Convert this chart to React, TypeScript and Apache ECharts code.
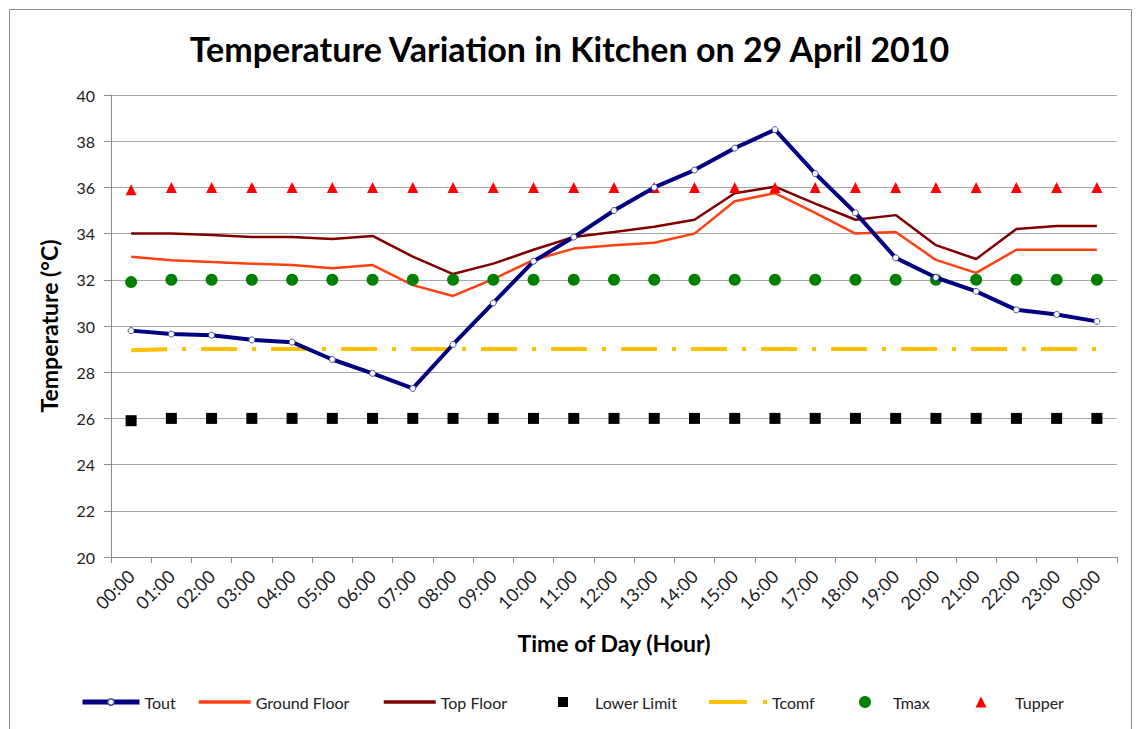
import React, { useEffect, useRef } from "react";
import * as echarts from "echarts";

const hours = [
  "00:00", "01:00", "02:00", "03:00", "04:00", "05:00", "06:00", "07:00", "08:00",
  "09:00", "10:00", "11:00", "12:00", "13:00", "14:00", "15:00", "16:00", "17:00",
  "18:00", "19:00", "20:00", "21:00", "22:00", "23:00", "00:00",
];
const yTicks = [20, 40, 2]; // min, max, interval

const tout = [29.8, 29.65, 29.6, 29.4, 29.3, 28.55, 27.95, 27.3, 29.2, 31.0, 32.8, 33.85, 35.0, 36.0, 36.75, 37.7, 38.5, 36.6, 34.9, 32.95, 32.1, 31.5, 30.7, 30.5, 30.2];
const groundFloor = [33.0, 32.85, 32.77, 32.7, 32.64, 32.5, 32.64, 31.77, 31.3, 32.03, 32.86, 33.35, 33.5, 33.6, 34.0, 35.4, 35.75, 34.9, 34.0, 34.07, 32.86, 32.3, 33.3, 33.3, 33.3];
const topFloor = [34.0, 34.0, 33.94, 33.85, 33.85, 33.77, 33.9, 33.0, 32.25, 32.7, 33.3, 33.85, 34.07, 34.3, 34.6, 35.75, 36.03, 35.3, 34.6, 34.8, 33.5, 32.9, 34.2, 34.33, 34.33];
const lowerLimit = [25.9, 26, 26, 26, 26, 26, 26, 26, 26, 26, 26, 26, 26, 26, 26, 26, 26, 26, 26, 26, 26, 26, 26, 26, 26];
const tcomf = [28.95, 29, 29, 29, 29, 29, 29, 29, 29, 29, 29, 29, 29, 29, 29, 29, 29, 29, 29, 29, 29, 29, 29, 29, 29];
const tmax = [31.9, 32, 32, 32, 32, 32, 32, 32, 32, 32, 32, 32, 32, 32, 32, 32, 32, 32, 32, 32, 32, 32, 32, 32, 32];
const tupper = [35.9, 36, 36, 36, 36, 36, 36, 36, 36, 36, 36, 36, 36, 36, 36, 36, 36, 36, 36, 36, 36, 36, 36, 36, 36];

const seriesNames = ["Tout", "Ground Floor", "Top Floor", "Lower Limit", "Tcomf", "Tmax", "Tupper"];

const FONT = "Lato, 'Open Sans', sans-serif";

export default function App() {
  const ref = useRef<HTMLDivElement>(null);
  useEffect(() => {
    if (!ref.current) return;
    const chart = echarts.init(ref.current, undefined, { renderer: "svg" });
    // legend entries: icon left, icon size, text left
    const legendDefs: any[] = [
      { name: seriesNames[0], left: 80, w: 57, h: 8, text: 142, extra: { itemStyle: { borderWidth: 1.5, borderColor: "#4a4aa8", color: "#fff" }, lineStyle: { width: 5, color: "#000080" } } },
      { name: seriesNames[1], left: 197, w: 52, h: 14, text: 254, extra: { itemStyle: { opacity: 0 }, lineStyle: { width: 3.5, color: "#ff4010" } } },
      { name: seriesNames[2], left: 382, w: 52, h: 14, text: 439, extra: { itemStyle: { opacity: 0 }, lineStyle: { width: 3.5, color: "#800000" } } },
      { name: seriesNames[3], left: 558, w: 10, h: 10, text: 595, extra: { icon: "rect" } },
      { name: seriesNames[4], left: 707, w: 58, h: 14, text: 768, extra: { itemStyle: { opacity: 0 }, lineStyle: { width: 4, color: "#ffc000", type: [38, 16, 4, 20], cap: "butt" } } },
      { name: seriesNames[5], left: 859, w: 12, h: 12, text: 893, extra: { icon: "circle" } },
      { name: seriesNames[6], left: 975.5, w: 11, h: 11, text: 1015, extra: { icon: "triangle" } },
    ];
    chart.setOption({
      animation: false,
      backgroundColor: "#ffffff",
      textStyle: { fontFamily: FONT },
      title: {
        text: "Temperature Variation in Kitchen on 29 April 2010",
        left: "center",
        top: 26,
        textStyle: { fontFamily: FONT, fontSize: 34, fontWeight: "bold", color: "#000" },
      },
      graphic: [
        {
          type: "rect",
          shape: { x: 9.5, y: 9.5, width: 1122, height: 740 },
          style: { fill: "none", stroke: "#8c8c8c", lineWidth: 1 },
          silent: true,
        },
      ],
      legend: legendDefs.map((d) => ({
        data: [d.name],
        left: d.left,
        top: 694,
        padding: 0,
        itemWidth: d.w,
        itemHeight: d.h,
        selectedMode: false,
        textStyle: {
          fontFamily: FONT,
          fontSize: 16,
          color: "#222",
          padding: [0, 0, 0, Math.max(0, d.text - (d.left + d.w + 5))],
        },
        ...d.extra,
      })),
      grid: { left: 111, right: 22, top: 95, bottom: 172, containLabel: false },
      xAxis: {
        type: "category",
        data: hours,
        boundaryGap: true,
        name: "Time of Day (Hour)",
        nameLocation: "middle",
        nameGap: 74,
        nameTextStyle: { fontFamily: FONT, fontSize: 23, fontWeight: "bold", color: "#000" },
        axisLine: { lineStyle: { color: "#8c8c8c", width: 1 } },
        axisTick: { show: true, length: 6, lineStyle: { color: "#8c8c8c" } },
        axisLabel: {
          interval: 0,
          rotate: 45,
          margin: 16,
          fontFamily: FONT,
          fontSize: 18,
          color: "#222",
        },
        splitLine: { show: false },
      },
      yAxis: {
        type: "value",
        min: yTicks[0],
        max: yTicks[1],
        interval: yTicks[2],
        name: "Temperature (°C)",
        nameLocation: "middle",
        nameGap: 51,
        nameTextStyle: { fontFamily: FONT, fontSize: 23, fontWeight: "bold", color: "#000" },
        axisLine: { show: true, lineStyle: { color: "#8c8c8c", width: 1 } },
        axisTick: { show: true, length: 7, lineStyle: { color: "#8c8c8c" } },
        axisLabel: { margin: 16, fontFamily: FONT, fontSize: 16, color: "#222" },
        splitLine: { show: true, lineStyle: { color: "#a6a6a6", width: 1 } },
      },
      series: [
        {
          name: "Tout",
          type: "line",
          data: tout,
          symbol: "circle",
          symbolSize: 6,
          showSymbol: true,
          lineStyle: { color: "#000080", width: 4 },
          itemStyle: { color: "#ffffff", borderColor: "#4a4aa8", borderWidth: 1 },
          z: 4,
        },
        {
          name: "Ground Floor",
          type: "line",
          data: groundFloor,
          symbol: "none",
          lineStyle: { color: "#ff4010", width: 2.5 },
          itemStyle: { color: "#ff4010" },
          z: 3,
        },
        {
          name: "Top Floor",
          type: "line",
          data: topFloor,
          symbol: "none",
          lineStyle: { color: "#800000", width: 2.5 },
          itemStyle: { color: "#800000" },
          z: 3,
        },
        {
          name: "Lower Limit",
          type: "scatter",
          data: lowerLimit,
          symbol: "rect",
          symbolSize: 11,
          itemStyle: { color: "#000000", opacity: 1 },
          z: 3,
        },
        {
          name: "Tcomf",
          type: "line",
          data: tcomf,
          symbol: "none",
          lineStyle: { color: "#ffc000", width: 4, type: [36, 15, 4, 15], cap: "butt" },
          itemStyle: { color: "#ffc000" },
          z: 2,
        },
        {
          name: "Tmax",
          type: "scatter",
          data: tmax,
          symbol: "circle",
          symbolSize: 12,
          itemStyle: { color: "#008000", opacity: 1 },
          z: 3,
        },
        {
          name: "Tupper",
          type: "scatter",
          data: tupper,
          symbol: "triangle",
          symbolSize: 11,
          itemStyle: { color: "#ff0000", opacity: 1 },
          z: 3,
        },
      ],
    });
    return () => chart.dispose();
  }, []);
  return (
    <div
      ref={ref}
      style={{ position: "fixed", left: 0, top: 0, width: 1139, height: 729, background: "#fff" }}
    />
  );
}
